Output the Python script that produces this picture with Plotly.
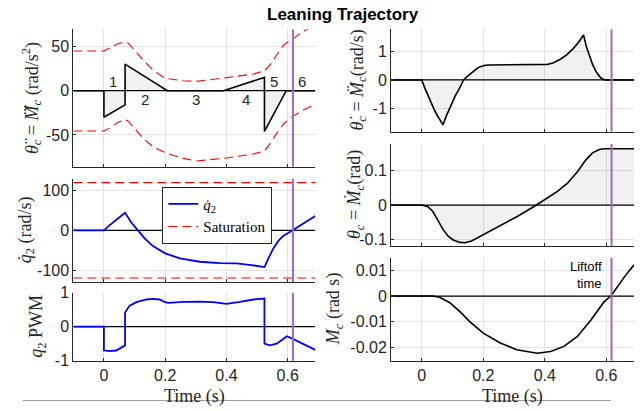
import plotly.graph_objects as go

# ---------------- data ----------------
x_range = [-0.1, 0.69]
time_ticks = [0, 0.2, 0.4, 0.6]
time_tick_labels = ["0", "0.2", "0.4", "0.6"]
liftoff_time = 0.617
saturation_qd = 120
zero_level = [0, 0]

# left top: third derivative (jerk) profile with segment numbers
jerk_t = [-0.1, 0.0, 0.0, 0.069, 0.069, 0.207, 0.39, 0.524, 0.524, 0.595, 0.69]
jerk_v = [0, 0, -30, -16, 30, 0, 0, 15, -46, 0, 0]

upper_t = [-0.1, 0.0, 0.02, 0.045, 0.069, 0.08, 0.095, 0.128, 0.16, 0.2, 0.259, 0.302,
           0.4, 0.488, 0.524, 0.542, 0.564, 0.586, 0.615, 0.64, 0.662, 0.69]
upper_v = [44.8, 44.8, 48.5, 53.0, 55.3, 53.5, 47.8, 34.6, 23.3, 13.9, 11.3, 10.5,
           14.7, 18.8, 22.6, 29.0, 40.3, 51.5, 58.0, 64.7, 69.2, 74.0]
lower_t = [-0.1, 0.0, 0.02, 0.045, 0.069, 0.08, 0.095, 0.128, 0.16, 0.2, 0.259, 0.302,
           0.4, 0.488, 0.524, 0.542, 0.564, 0.586, 0.615, 0.651, 0.69]
lower_v = [-45.5, -45.5, -42.0, -36.0, -32.4, -34.5, -40.6, -53.8, -63.2, -70.0, -76.4, -79.4,
           -76.0, -71.5, -68.0, -60.0, -48.2, -37.6, -29.3, -21.8, -15.4]

# left middle: q2 dot
qd_t = [-0.1, 0, 0.019, 0.04, 0.057, 0.069, 0.09, 0.111, 0.133, 0.16, 0.2, 0.248, 0.313,
        0.379, 0.433, 0.488, 0.524, 0.537, 0.553, 0.57, 0.586, 0.603, 0.615, 0.651, 0.69]
qd_v = [0, 0, 13.3, 27.6, 36.9, 44.4, 19.2, 0, -20.2, -39.5, -58, -70.6, -79,
        -82.3, -83.2, -88.2, -92.4, -70.6, -45.4, -26, -13.4, -6, 0, 17.5, 36]

# left bottom: q2 PWM
pwm_t = [-0.1, 0, 0, 0.019, 0.04, 0.062, 0.069, 0.069, 0.084, 0.106, 0.139, 0.16, 0.182,
         0.2, 0.21, 0.259, 0.313, 0.357, 0.4, 0.444, 0.488, 0.524, 0.524, 0.542, 0.564,
         0.58, 0.597, 0.615, 0.651, 0.69]
pwm_v = [0, 0, -0.70, -0.72, -0.70, -0.60, -0.55, 0.42, 0.62, 0.72, 0.80, 0.82, 0.80,
         0.72, 0.70, 0.73, 0.74, 0.72, 0.67, 0.73, 0.80, 0.83, -0.50, -0.55, -0.50,
         -0.40, -0.28, -0.35, -0.50, -0.68]

# right top: theta_c dot
thd_t = [-0.1, 0, 0.01, 0.02, 0.03, 0.04, 0.05, 0.06, 0.069, 0.08, 0.09, 0.10, 0.11, 0.12,
         0.13, 0.136, 0.15, 0.16, 0.17, 0.18, 0.19, 0.2, 0.207, 0.22, 0.39, 0.41, 0.43,
         0.45, 0.47, 0.49, 0.51, 0.526, 0.535, 0.545, 0.555, 0.565, 0.575, 0.585, 0.595, 0.69]
thd_v = [0, 0, -0.29, -0.56, -0.81, -1.04, -1.25, -1.44, -1.59, -1.27, -1.01, -0.77, -0.54,
         -0.35, -0.13, 0.0, 0.14, 0.24, 0.33, 0.41, 0.47, 0.51, 0.52, 0.53, 0.53, 0.55, 0.62,
         0.73, 0.88, 1.08, 1.33, 1.59, 1.18, 0.84, 0.56, 0.33, 0.16, 0.05, 0.0, 0.0]

# right middle: theta_c
th_t = [-0.1, 0, 0.02, 0.036, 0.052, 0.069, 0.085, 0.102, 0.124, 0.14, 0.162, 0.2, 0.255,
        0.309, 0.369, 0.4, 0.44, 0.473, 0.506, 0.533, 0.555, 0.577, 0.593, 0.69]
th_v = [0, 0, -0.005, -0.019, -0.044, -0.071, -0.090, -0.102, -0.109, -0.110, -0.105, -0.087,
        -0.061, -0.034, -0.002, 0.015, 0.039, 0.063, 0.097, 0.131, 0.152, 0.162, 0.164, 0.164]

# right bottom: M_c
mc_t = [-0.1, 0, 0.036, 0.058, 0.091, 0.124, 0.156, 0.2, 0.255, 0.309, 0.375, 0.419, 0.462,
        0.506, 0.55, 0.593, 0.615, 0.659, 0.69]
mc_v = [0, 0, 0, -0.0005, -0.0026, -0.0061, -0.0100, -0.0145, -0.0184, -0.0210, -0.0224,
        -0.0217, -0.0197, -0.0158, -0.0094, -0.0022, 0.0, 0.0075, 0.0122]

segment_labels = ["1", "2", "3", "4", "5", "6"]

# ---------------- styling ----------------
W, H = 644, 411
AX = "#262626"
GRID = "#e3e3e3"
FILL = "rgba(0,0,0,0.055)"
PURPLE = "#a06abb"
SANS = "Liberation Sans, Arial, sans-serif"
SERIF = "Liberation Serif, DejaVu Serif, serif"

def fx(px):
    return px / W

def fy(py):
    return 1 - py / H

left_dom = [fx(73.3), fx(315.3)]
right_dom = [fx(391), fx(634)]

panels = [
    ("1", left_dom, 29.3, 166.7, [-85.8, 69.3], [-50, 0, 50], ["-50", "0", "50"], False),
    ("2", left_dom, 178.7, 282.0, [-130, 130], [-100, 0, 100], ["-100", "0", "100"], False),
    ("3", left_dom, 292.7, 360.7, [-1, 1], [-1, 0, 1], ["-1", "0", "1"], True),
    ("4", right_dom, 29.3, 131.7, [-1.83, 1.79], [-1, 0, 1], ["-1", "0", "1"], False),
    ("5", right_dom, 144.0, 246.0, [-0.1195, 0.178], [-0.1, 0, 0.1], ["-0.1", "0", "0.1"], False),
    ("6", right_dom, 257.7, 360.7, [-0.0253, 0.0150], [-0.02, -0.01, 0, 0.01],
     ["-0.02", "-0.01", "0", "0.01"], True),
]

layout = dict(
    width=W, height=H, margin=dict(l=0, r=0, t=0, b=0, autoexpand=False),
    paper_bgcolor="white", plot_bgcolor="white",
    showlegend=True,
    legend=dict(x=fx(162.3), y=fy(186.7), xanchor="left", yanchor="top",
                bgcolor="white", bordercolor=AX, borderwidth=1,
                font=dict(family=SERIF, size=15, color="black"),
                tracegroupgap=0, itemwidth=30),
)
shapes = []
for name, xd, top, bot, yr, tv, tt, showx in panels:
    sfx = "" if name == "1" else name
    layout["xaxis" + sfx] = dict(
        domain=xd, range=x_range, anchor="y" + sfx,
        tickvals=time_ticks, ticktext=time_tick_labels, showticklabels=showx,
        showgrid=True, gridcolor=GRID, gridwidth=1, zeroline=False,
        showline=True, linecolor=AX, linewidth=1, ticks="inside", ticklen=3,
        tickcolor=AX, tickfont=dict(family=SANS, size=16, color=AX),
    )
    layout["yaxis" + sfx] = dict(
        domain=[fy(bot), fy(top)], range=yr, anchor="x" + sfx,
        tickvals=tv, ticktext=tt,
        showgrid=True, gridcolor=GRID, gridwidth=1, zeroline=False,
        showline=True, linecolor=AX, linewidth=1, ticks="inside", ticklen=3,
        tickcolor=AX, tickfont=dict(family=SANS, size=16, color=AX),
    )
    shapes.append(dict(type="line", xref="x" + sfx, yref="paper",
                       x0=liftoff_time, x1=liftoff_time, y0=fy(bot), y1=fy(top),
                       line=dict(color=PURPLE, width=2), layer="above"))

shapes.append(dict(type="line", xref="paper", yref="paper", x0=fx(23), x1=fx(611),
                   y0=fy(400.5), y1=fy(400.5), line=dict(color="#a0a0a0", width=1.2)))
layout["shapes"] = shapes

fig = go.Figure(layout=layout)

def curve(x, y, ax, color="black", width=1.6, fill=False, dash=None, name=None,
          showlegend=False, group=None):
    sfx = "" if ax == "1" else ax
    kw = {}
    if fill:
        kw = dict(fill="tozeroy", fillcolor=FILL)
    fig.add_trace(go.Scatter(
        x=x, y=y, mode="lines", xaxis="x" + sfx, yaxis="y" + sfx,
        line=dict(color=color, width=width, dash=dash),
        name=name, showlegend=showlegend, legendgroup=group, hoverinfo="skip", **kw))

for p in panels:
    curve(x_range, zero_level, p[0], color="black", width=1.2)

curve(jerk_t, jerk_v, "1", fill=True)
curve(upper_t, upper_v, "1", color="red", width=1.1, dash="9px,5px", group="sat")
curve(lower_t, lower_v, "1", color="red", width=1.1, dash="9px,5px", group="sat")
curve(qd_t, qd_v, "2", color="#0000ff", width=1.8, name="<i>q̇</i><sub>2</sub>",
      showlegend=True, group="qd")
curve(x_range, [saturation_qd, saturation_qd], "2", color="red", width=1.1, dash="9px,5px",
      name="Saturation", showlegend=True, group="sat")
curve(x_range, [-saturation_qd, -saturation_qd], "2", color="red", width=1.1,
      dash="9px,5px", group="sat")
curve(pwm_t, pwm_v, "3", color="#0000ff", width=1.8)
curve(thd_t, thd_v, "4", fill=True)
curve(th_t, th_v, "5", fill=True)
curve(mc_t, mc_v, "6")

ann = []
ann.append(dict(text="<b>Leaning Trajectory</b>", xref="paper", yref="paper",
                x=fx(342.5), y=fy(14.5), xanchor="center", yanchor="middle",
                showarrow=False, font=dict(family=SANS, size=17, color="black")))
seg_pos = [(0.0295, 10.2), (0.1355, -10.5), (0.302, -9.7), (0.463, -10.5),
           (0.555, 10.2), (0.648, 10.2)]
for lab, (sx, sy) in zip(segment_labels, seg_pos):
    ann.append(dict(text=lab, xref="x", yref="y", x=sx, y=sy, showarrow=False,
                    xanchor="center", yanchor="middle",
                    font=dict(family=SANS, size=15, color=AX)))
ann.append(dict(text="Liftoff<br>time", xref="paper", yref="paper", x=fx(604),
                y=fy(275), xanchor="right", yanchor="middle", align="right",
                showarrow=False, font=dict(family=SANS, size=13, color="black")))

M3 = '<i>M</i><span style="font-family:DejaVu Sans">\u20db</span>'
ylabels = [
    ("<i>θ̈</i><sub><i>c</i></sub> = " + M3 + "<sub><i>c</i></sub> (rad/s<sup>2</sup>)", 32, (29.3 + 166.7) / 2),
    ("<i>q̇</i><sub>2</sub> (rad/s)", 26, (178.7 + 282) / 2),
    ("<i>q</i><sub>2</sub> PWM", 38, (292.7 + 360.7) / 2),
    ("<i>θ̇</i><sub><i>c</i></sub> = <i>M̈</i><sub><i>c</i></sub>(rad/s)", 358, (29.3 + 131.7) / 2),
    ("<i>θ</i><sub><i>c</i></sub> = <i>Ṁ</i><sub><i>c</i></sub>(rad)", 355, (144 + 246) / 2),
    ("<i>M</i><sub><i>c</i></sub> (rad s)", 334, (257.7 + 360.7) / 2),
]
for txt, px, py in ylabels:
    ann.append(dict(text=txt, xref="paper", yref="paper", x=fx(px), y=fy(py),
                    xanchor="center", yanchor="middle", textangle=-90, showarrow=False,
                    font=dict(family=SERIF, size=18, color=AX)))
for cx in [(73.3 + 315.3) / 2, (391 + 634) / 2]:
    ann.append(dict(text="Time (s)", xref="paper", yref="paper", x=fx(cx), y=fy(396),
                    xanchor="center", yanchor="middle", showarrow=False,
                    font=dict(family=SERIF, size=18, color=AX)))
fig.update_layout(annotations=ann)

# no modebar; remove the default page margin so the 644x411 figure fills the window
fig.write_html("out.html", config={"displayModeBar": False, "staticPlot": True},
               post_script="document.body.style.margin='0px';")
